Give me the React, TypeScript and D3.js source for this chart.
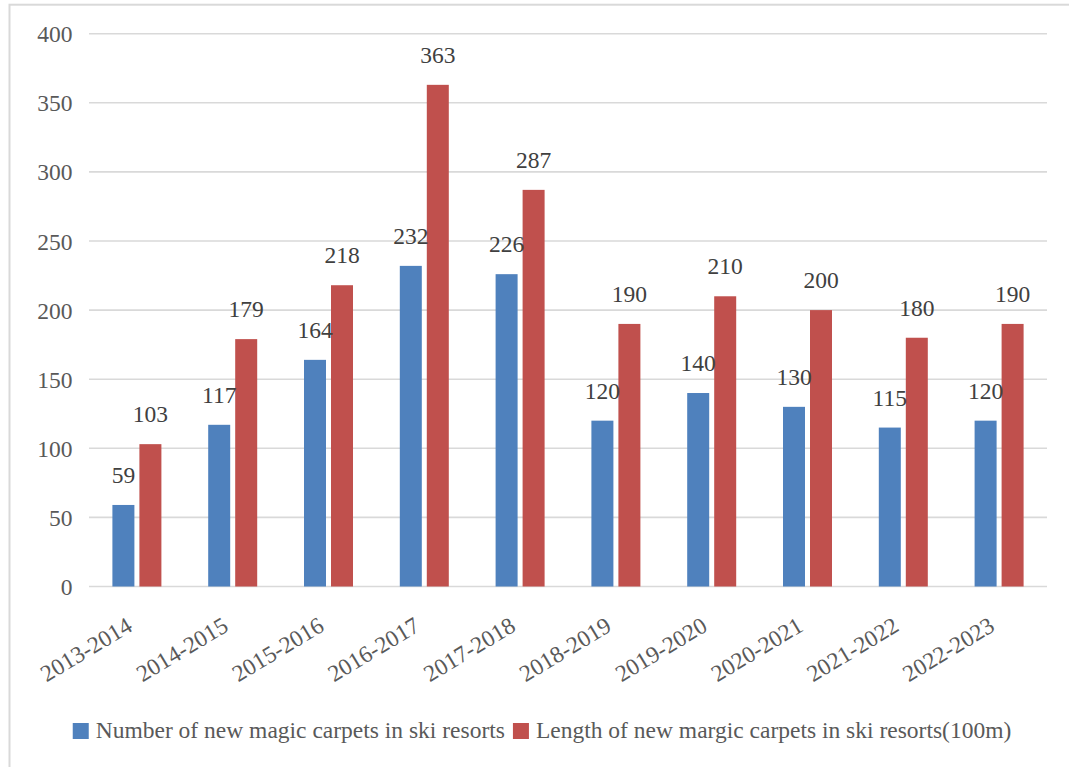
import React, { useEffect, useRef } from "react";
import * as d3 from "d3";

const seasons = [
  "2013-2014", "2014-2015", "2015-2016", "2016-2017", "2017-2018",
  "2018-2019", "2019-2020", "2020-2021", "2021-2022", "2022-2023",
];
const carpetCount = [59, 117, 164, 232, 226, 120, 140, 130, 115, 120];
const carpetLength = [103, 179, 218, 363, 287, 190, 210, 200, 180, 190];
const seriesNames = [
  "Number of new magic carpets in ski resorts",
  "Length of new margic carpets in ski resorts(100m)",
];
const seriesColors = ["#4F81BD", "#C0504D"];
const yTicks = [0, 50, 100, 150, 200, 250, 300, 350, 400];

const W = 1069;
const H = 767;
const FONT = "Liberation Serif, Tinos, Times New Roman, DejaVu Serif, serif";
const FS = 23.5;

export default function App() {
  const ref = useRef<SVGSVGElement | null>(null);

  useEffect(() => {
    const svg = d3.select(ref.current);
    svg.selectAll("*").remove();

    const left = 89, right = 1047, top = 33.7, bottom = 586.5;

    const x0 = d3.scaleBand<string>().domain(seasons).range([left, right]).padding(0);
    const groupW = 49;
    const x1 = d3.scaleBand<string>().domain(seriesNames).range([0, groupW]).paddingInner(5 / 27).paddingOuter(0);
    const y = d3.scaleLinear().domain([0, 400]).range([bottom, top]);

    const txt = (sel: any, color: string) =>
      sel.style("font-family", FONT).style("font-size", `${FS}px`).attr("fill", color);

    // outer chart frame
    svg.append("rect")
      .attr("x", 9.5).attr("y", 4.7).attr("width", 1100).attr("height", 800)
      .attr("fill", "none").attr("stroke", "#d9d9d9").attr("stroke-width", 2);

    // gridlines
    svg.append("g").selectAll("line").data(yTicks).join("line")
      .attr("x1", left).attr("x2", right)
      .attr("y1", (d) => y(d)).attr("y2", (d) => y(d))
      .attr("stroke", "#d9d9d9").attr("stroke-width", 1.6);

    // y tick labels
    txt(
      svg.append("g").selectAll("text").data(yTicks).join("text")
        .attr("x", 72.5).attr("y", (d) => y(d) + 8.5)
        .attr("text-anchor", "end")
        .text((d) => String(d)),
      "#595959"
    );

    const series = [carpetCount, carpetLength];
    const barX = (i: number, si: number) =>
      (x0(seasons[i]) as number) + x0.bandwidth() / 2 - groupW / 2 + (x1(seriesNames[si]) as number);

    series.forEach((vals, si) => {
      svg.append("g").selectAll("rect").data(vals).join("rect")
        .attr("x", (_d, i) => barX(i, si))
        .attr("y", (d) => y(d))
        .attr("width", x1.bandwidth())
        .attr("height", (d) => y(0) - y(d))
        .attr("fill", seriesColors[si]);
    });

    // value labels drawn above the bars
    series.forEach((vals, si) => {
      txt(
        svg.append("g").selectAll("text").data(vals).join("text")
          .attr("x", (_d, i) => barX(i, si) + x1.bandwidth() / 2)
          .attr("y", (d) => y(d) - 22)
          .attr("text-anchor", "middle")
          .text((d) => String(d)),
        "#404040"
      );
    });

    // rotated category labels
    txt(
      svg.append("g").selectAll("text").data(seasons).join("text")
        .attr("transform", (d) => `translate(${(x0(d) as number) + x0.bandwidth() / 2 - 3},630) rotate(-31)`)
        .attr("text-anchor", "end")
        .text((d) => d),
      "#595959"
    );

    // legend, centred on the chart frame
    const legend = svg.append("g");
    const sq = 16, gapText = 7, gapItem = 8;
    const items = seriesNames.map((name, i) => {
      const gi = legend.append("g");
      gi.append("rect").attr("width", sq).attr("height", sq).attr("y", 723).attr("fill", seriesColors[i]);
      const t = txt(
        gi.append("text").attr("x", sq + gapText).attr("y", 738).text(name),
        "#595959"
      );
      const w = (t.node() as SVGTextElement).getComputedTextLength();
      return { gi, w: sq + gapText + w };
    });
    const total = items.reduce((s, it) => s + it.w, 0) + gapItem * (items.length - 1);
    let cx = 542 - total / 2;
    items.forEach((it) => {
      it.gi.attr("transform", `translate(${cx},0)`);
      cx += it.w + gapItem;
    });
  }, []);

  return (
    <svg
      ref={ref}
      width={W}
      height={H}
      style={{ position: "absolute", left: 0, top: 0, display: "block", background: "#fff" }}
    />
  );
}
